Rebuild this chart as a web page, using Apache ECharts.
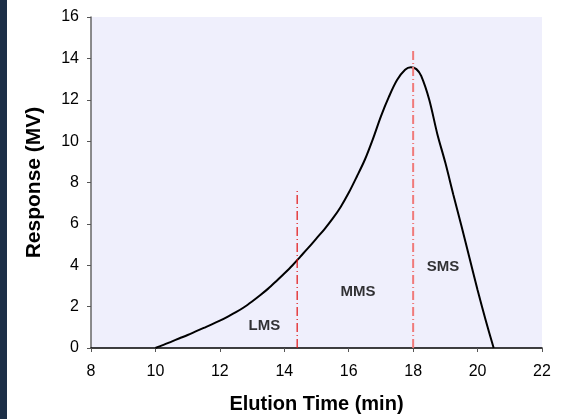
<!DOCTYPE html>
<html>
<head>
<meta charset="utf-8">
<script src="https://cdn.jsdelivr.net/npm/echarts@6/dist/echarts.min.js"></script>
<style>html,body{margin:0;padding:0;background:#fff;}#c{width:567px;height:419px;}</style>
</head>
<body>
<div id="c"></div>
<script>
var curveX = [10, 10.25, 10.5, 10.75, 11, 11.25, 11.5, 11.75, 12, 12.25, 12.5, 12.75, 13, 13.25, 13.5, 13.75, 14, 14.25, 14.5, 14.75, 15, 15.25, 15.5, 15.75, 16, 16.25, 16.5, 16.75, 17, 17.25, 17.5, 17.75, 17.93, 18.1, 18.25, 18.5, 18.75, 19, 19.25, 19.5, 19.75, 20, 20.25, 20.5];
var curveY = [0, 0.15, 0.31, 0.47, 0.63, 0.8, 0.97, 1.14, 1.32, 1.52, 1.73, 1.97, 2.25, 2.55, 2.87, 3.23, 3.6, 3.99, 4.42, 4.85, 5.3, 5.75, 6.25, 6.82, 7.5, 8.28, 9.1, 10.1, 11.2, 12.15, 12.95, 13.45, 13.57, 13.48, 13.15, 12.0, 10.35, 8.95, 7.4, 5.9, 4.35, 2.8, 1.35, 0];
var lmsLineX = [14.4, 14.4];
var lmsLineY = [0, 7.7];
var smsLineX = [18, 18];
var smsLineY = [0, 14.5];
var regionNames = ['LMS', 'MMS', 'SMS'];
var regionX = [13.38, 16.29, 18.93];
var regionY = [1.09, 2.70, 3.9];
var xTicks = [8, 10, 12, 14, 16, 18, 20, 22];
var yTicks = [0, 2, 4, 6, 8, 10, 12, 14, 16];

function zip(a, b) { return a.map(function (v, i) { return [v, b[i]]; }); }

var chart = echarts.init(document.getElementById('c'), null, {renderer: 'canvas'});
var font = '"Liberation Sans", Arial, sans-serif';
chart.setOption({
  animation: false,
  backgroundColor: '#ffffff',
  graphic: [{type: 'rect', left: 0, top: 0, shape: {width: 7, height: 419}, style: {fill: '#1c2f47'}, z: -1}],
  grid: {left: 91, right: 25, top: 17, bottom: 71, show: true, backgroundColor: '#efeffc', borderWidth: 0},
  xAxis: {
    type: 'value', min: xTicks[0], max: xTicks[xTicks.length - 1], interval: 2,
    name: 'Elution Time (min)', nameLocation: 'middle', nameGap: 46,
    nameTextStyle: {fontFamily: font, fontWeight: 'bold', fontSize: 20, color: '#000'},
    axisLine: {lineStyle: {color: '#000', width: 1.5}},
    axisTick: {show: true, length: 4, lineStyle: {color: '#555'}},
    axisLabel: {fontFamily: font, fontSize: 16, color: '#000', margin: 16},
    splitLine: {show: false}
  },
  yAxis: {
    type: 'value', min: yTicks[0], max: yTicks[yTicks.length - 1], interval: 2,
    name: 'Response (MV)', nameLocation: 'middle', nameGap: 46,
    nameTextStyle: {fontFamily: font, fontWeight: 'bold', fontSize: 21, color: '#000'},
    axisLine: {show: true, lineStyle: {color: '#666', width: 1.5}},
    axisTick: {show: true, length: 4, lineStyle: {color: '#555'}},
    axisLabel: {fontFamily: font, fontSize: 16, color: '#000', margin: 12},
    splitLine: {show: false}
  },
  series: [
    {type: 'line', data: zip(curveX, curveY), smooth: 0.3, showSymbol: false, symbol: 'none',
     lineStyle: {color: '#000', width: 2}, z: 3},
    {type: 'line', data: zip(lmsLineX, lmsLineY), showSymbol: false, symbol: 'none',
     lineStyle: {color: '#e01010', width: 1.2, type: [9, 3, 1, 3]}, z: 4},
    {type: 'line', data: zip(smsLineX, smsLineY), showSymbol: false, symbol: 'none',
     lineStyle: {color: '#f07a7a', width: 2, type: [9, 3, 1, 3]}, z: 4},
    {type: 'scatter', data: zip(regionX, regionY).map(function (p, i) { return {value: p, name: regionNames[i]}; }),
     symbolSize: 0,
     label: {show: true, position: 'inside', formatter: '{b}', fontFamily: font, fontWeight: 'bold', fontSize: 15, color: '#000'}, z: 5}
  ]
});
</script>
</body>
</html>
